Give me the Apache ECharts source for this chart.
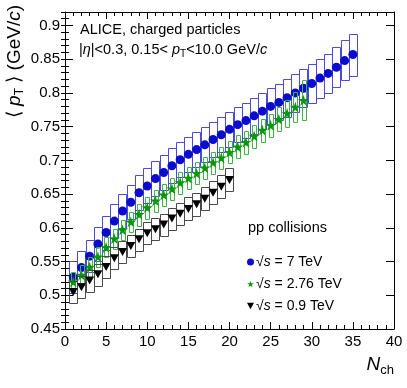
<!DOCTYPE html>
<html>
<head>
<meta charset="utf-8">
<script src="https://cdn.jsdelivr.net/npm/echarts@6/dist/echarts.min.js"></script>
<style>
  html, body { margin: 0; padding: 0; background: #fff; }
  #chart { width: 407px; height: 388px; }
</style>
</head>
<body>
<div id="chart"></div>
<script>
// pp, sqrt(s) = 7 TeV
var nch7 = [1, 2, 3, 4, 5, 6, 7, 8, 9, 10, 11, 12, 13, 14, 15, 16, 17, 18, 19, 20,
            21, 22, 23, 24, 25, 26, 27, 28, 29, 30, 31, 32, 33, 34, 35];
var pt7 = [0.527, 0.541, 0.558, 0.576, 0.593, 0.610, 0.625, 0.638, 0.652, 0.662,
           0.673, 0.682, 0.692, 0.701, 0.709, 0.716, 0.723, 0.731, 0.738, 0.746,
           0.753, 0.759, 0.766, 0.773, 0.780, 0.786, 0.793, 0.800, 0.807, 0.814,
           0.822, 0.829, 0.838, 0.848, 0.857];
var sys7 = [0.024, 0.024, 0.024, 0.025, 0.025, 0.025, 0.025, 0.025, 0.026, 0.026,
            0.026, 0.026, 0.026, 0.026, 0.026, 0.026, 0.026, 0.026, 0.026, 0.026,
            0.026, 0.026, 0.027, 0.027, 0.027, 0.027, 0.028, 0.028, 0.028, 0.029,
            0.029, 0.029, 0.030, 0.030, 0.031];

// pp, sqrt(s) = 2.76 TeV
var nch276 = [1, 2, 3, 4, 5, 6, 7, 8, 9, 10, 11, 12, 13, 14, 15, 16, 17, 18, 19, 20,
              21, 22, 23, 24, 25, 26, 27, 28, 29];
var pt276 = [0.520, 0.530, 0.542, 0.557, 0.571, 0.584, 0.597, 0.609, 0.620, 0.630,
             0.640, 0.649, 0.658, 0.667, 0.674, 0.681, 0.689, 0.697, 0.704, 0.712,
             0.720, 0.727, 0.736, 0.745, 0.752, 0.761, 0.770, 0.779, 0.789];
var sys276 = [0.015, 0.015, 0.015, 0.015, 0.015, 0.015, 0.015, 0.015, 0.016, 0.016,
              0.016, 0.016, 0.016, 0.016, 0.016, 0.016, 0.016, 0.016, 0.016, 0.016,
              0.017, 0.017, 0.017, 0.017, 0.017, 0.018, 0.020, 0.022, 0.030];

// pp, sqrt(s) = 0.9 TeV
var nch09 = [1, 2, 3, 4, 5, 6, 7, 8, 9, 10, 11, 12, 13, 14, 15, 16, 17, 18, 19, 20];
var pt09 = [0.505, 0.512, 0.522, 0.531, 0.542, 0.555, 0.564, 0.573, 0.583, 0.592,
            0.598, 0.605, 0.614, 0.621, 0.628, 0.635, 0.643, 0.652, 0.661, 0.671];
var sys09 = [0.016, 0.016, 0.016, 0.016, 0.016, 0.016, 0.016, 0.016, 0.016, 0.016,
             0.016, 0.016, 0.016, 0.016, 0.017, 0.017, 0.017, 0.017, 0.017, 0.017];

var FONT = '"Liberation Sans", Arial, sans-serif';
var STAR = 'path://M50,0 L61,35 L98,35 L68,57 L79,91 L50,70 L21,91 L32,57 L2,35 L39,35 Z';
var TRI_DOWN = 'path://M0,0 L10,0 L5,9 Z';

var chart = echarts.init(document.getElementById('chart'), null, { renderer: 'canvas' });

// systematic-error boxes
function boxes(name, xs, ys, errs, half, color, z) {
    return {
        name: name,
        type: 'custom',
        silent: true,
        z: z,
        data: xs.map(function (x, i) { return [x, ys[i], errs[i]]; }),
        renderItem: function (params, api) {
            var x = api.value(0), y = api.value(1), e = api.value(2);
            var p0 = api.coord([x - half, y + e]);
            var p1 = api.coord([x + half, y - e]);
            return {
                type: 'rect',
                shape: { x: Math.round(p0[0]) + 0.5, y: Math.round(p0[1]) + 0.5,
                         width: Math.round(p1[0] - p0[0]), height: Math.round(p1[1] - p0[1]) },
                style: { fill: 'none', stroke: color, lineWidth: 1 }
            };
        }
    };
}

function points(name, xs, ys, symbol, size, color, z) {
    return {
        name: name,
        type: 'scatter',
        z: z,
        symbol: symbol,
        symbolSize: size,
        itemStyle: { color: color, opacity: 1 },
        data: xs.map(function (x, i) { return [x, ys[i]]; })
    };
}

var tickX = { show: true, inside: true, length: 7, lineStyle: { color: '#000' } };
var minorX = { show: true, splitNumber: 5, length: 4, lineStyle: { color: '#000' } };

var option = {
    animation: false,
    backgroundColor: '#fff',
    grid: { left: 65, right: 13, top: 12, bottom: 59 },
    xAxis: [
        {
            type: 'value', min: 0, max: 40, interval: 5,
            axisLine: { onZero: false, lineStyle: { color: '#000', width: 1 } },
            axisTick: tickX, minorTick: minorX,
            splitLine: { show: false }, minorSplitLine: { show: false },
            axisLabel: { color: '#000', fontFamily: FONT, fontSize: 15, margin: 5 }
        },
        {
            type: 'value', position: 'top', min: 0, max: 40, interval: 5,
            axisLine: { onZero: false, lineStyle: { color: '#000', width: 1 } },
            axisTick: tickX, minorTick: minorX,
            splitLine: { show: false }, axisLabel: { show: false }
        }
    ],
    yAxis: [
        {
            type: 'value', position: 'left', min: 0.45, max: 0.92, interval: 0.05,
            axisLine: { show: true, onZero: false, lineStyle: { color: '#000', width: 1 } },
            axisTick: { show: true, inside: true, length: 8, lineStyle: { color: '#000' } },
            splitLine: { show: false },
            axisLabel: { color: '#000', fontFamily: FONT, fontSize: 15, margin: 5, showMaxLabel: false }
        },
        {
            type: 'value', position: 'left', min: 0.45, max: 0.92, interval: 0.01,
            axisLine: { show: false },
            axisTick: { show: true, inside: true, length: 4, lineStyle: { color: '#000' } },
            splitLine: { show: false }, axisLabel: { show: false }
        },
        {
            type: 'value', position: 'right', min: 0.45, max: 0.92, interval: 0.05,
            axisLine: { show: true, onZero: false, lineStyle: { color: '#000', width: 1 } },
            axisTick: { show: true, inside: true, length: 8, lineStyle: { color: '#000' } },
            splitLine: { show: false }, axisLabel: { show: false }
        },
        {
            type: 'value', position: 'right', min: 0.45, max: 0.92, interval: 0.01,
            axisLine: { show: false },
            axisTick: { show: true, inside: true, length: 4, lineStyle: { color: '#000' } },
            splitLine: { show: false }, axisLabel: { show: false }
        }
    ],
    legend: {
        left: 242, top: 249, orient: 'vertical',
        itemWidth: 7, itemHeight: 7, itemGap: 6,
        selectedMode: false,
        data: [
            { name: '7', icon: 'circle' },
            { name: '2.76', icon: STAR },
            { name: '0.9', icon: TRI_DOWN }
        ],
        formatter: function (name) { return '\u221a{i|s} = ' + name + ' TeV'; },
        textStyle: {
            color: '#000', fontFamily: FONT, fontSize: 14, lineHeight: 16,
            padding: [0, 0, 0, -3],
            rich: { i: { fontFamily: FONT, fontSize: 14, fontStyle: 'italic', color: '#000' } }
        }
    },
    graphic: [
        {
            type: 'text', left: 80, top: 22,
            style: { text: 'ALICE, charged particles', fill: '#000', font: '14.5px ' + FONT }
        },
        {
            type: 'text', left: 79, top: 41,
            style: {
                text: '|{i|\u03b7}|<0.3, 0.15< {i|p}{s|T}<10.0 GeV/{i|c}',
                fill: '#000', fontFamily: FONT, fontSize: 14.5, lineHeight: 18,
                rich: {
                    i: { fontFamily: FONT, fontSize: 14.5, fontStyle: 'italic', lineHeight: 18 },
                    s: { fontFamily: FONT, fontSize: 10, lineHeight: 10, verticalAlign: 'bottom' }
                }
            }
        },
        {
            type: 'text', left: 248, top: 220,
            style: { text: 'pp collisions', fill: '#000', font: '14.5px ' + FONT }
        },
        {
            type: 'text', x: 15, y: 5, rotation: Math.PI / 2,
            style: {
                text: '\u27e8 {i|p}{s|T} \u27e9 (GeV/{i|c})',
                fill: '#000', fontFamily: FONT, fontSize: 19, lineHeight: 22,
                align: 'right', verticalAlign: 'middle',
                rich: {
                    i: { fontFamily: FONT, fontSize: 19, fontStyle: 'italic', lineHeight: 22 },
                    s: { fontFamily: FONT, fontSize: 12, lineHeight: 12, verticalAlign: 'bottom' }
                }
            }
        },
        {
            type: 'text', x: 394, y: 365,
            style: {
                text: '{n|N}{s|ch}',
                align: 'right', verticalAlign: 'middle',
                rich: {
                    n: { fontFamily: FONT, fontSize: 19, fontStyle: 'italic', lineHeight: 24, fill: '#000' },
                    s: { fontFamily: FONT, fontSize: 13, lineHeight: 13, verticalAlign: 'bottom', fill: '#000' }
                }
            }
        }
    ],
    series: [
        boxes('box7', nch7, pt7, sys7, 0.5, '#4a4ae0', 2),
        points('7', nch7, pt7, 'circle', 9, '#0b0bcc', 3),
        boxes('box276', nch276, pt276, sys276, 0.22, '#3fb43f', 4),
        points('2.76', nch276, pt276, STAR, 11, '#0a960a', 5),
        boxes('box09', nch09, pt09, sys09, 0.5, '#4a4a4a', 6),
        points('0.9', nch09, pt09, TRI_DOWN, [9, 8], '#000', 7)
    ]
};

chart.setOption(option);
</script>
</body>
</html>
